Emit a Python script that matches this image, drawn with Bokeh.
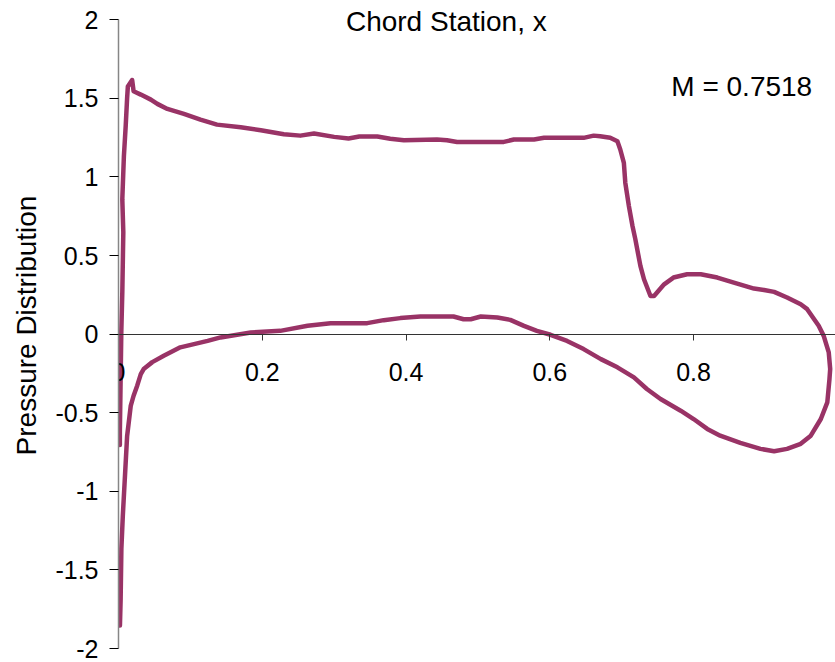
from bokeh.plotting import figure
from bokeh.models import Range1d, FixedTicker, Label
from bokeh.embed import file_html
from bokeh.resources import INLINE

# Path around the airfoil: lower surface from leading edge to trailing edge, then upper surface back
chord_x = [0.002, 0.003, 0.004, 0.006, 0.009, 0.012, 0.017, 0.021, 0.026, 0.031, 0.035, 0.047,
           0.063, 0.086, 0.124, 0.142, 0.184, 0.225, 0.263, 0.295, 0.323, 0.346, 0.369, 0.392,
           0.420, 0.466, 0.480, 0.490, 0.504, 0.527, 0.545, 0.564, 0.582, 0.601, 0.624, 0.647,
           0.671, 0.694, 0.717, 0.735, 0.754, 0.782, 0.800, 0.819, 0.837, 0.865, 0.893, 0.912,
           0.930, 0.949, 0.963, 0.977, 0.986, 0.989, 0.990, 0.988, 0.981, 0.974, 0.958, 0.949,
           0.930, 0.912, 0.898, 0.884, 0.856, 0.833, 0.810, 0.791, 0.772, 0.759, 0.745, 0.740,
           0.731, 0.726, 0.719, 0.715, 0.710, 0.705, 0.703, 0.698, 0.694, 0.684, 0.670, 0.661,
           0.647, 0.592, 0.578, 0.550, 0.536, 0.471, 0.457, 0.443, 0.397, 0.378, 0.360, 0.335,
           0.320, 0.300, 0.272, 0.253, 0.230, 0.198, 0.170, 0.137, 0.114, 0.091, 0.068, 0.054,
           0.045, 0.031, 0.021, 0.019, 0.013, 0.012, 0.010, 0.0075, 0.0053, 0.0067, 0.0053,
           0.0039, 0.0029, 0.0019, 0.0019]
pressure = [-1.854, -1.683, -1.365, -1.156, -0.902, -0.648, -0.457, -0.392, -0.328, -0.254, -0.222, -0.178,
            -0.138, -0.084, -0.043, -0.021, 0.011, 0.021, 0.053, 0.070, 0.070, 0.070, 0.089, 0.102,
            0.112, 0.112, 0.095, 0.095, 0.112, 0.106, 0.091, 0.053, 0.021, -0.004, -0.043, -0.095,
            -0.159, -0.211, -0.275, -0.349, -0.413, -0.487, -0.540, -0.603, -0.646, -0.692, -0.730, -0.745,
            -0.730, -0.698, -0.646, -0.540, -0.434, -0.286, -0.222, -0.116, -0.011, 0.053, 0.159, 0.190,
            0.233, 0.269, 0.281, 0.290, 0.328, 0.360, 0.381, 0.381, 0.360, 0.317, 0.243, 0.243,
            0.349, 0.434, 0.603, 0.688, 0.815, 0.963, 1.090, 1.175, 1.227, 1.249, 1.259, 1.263,
            1.249, 1.249, 1.238, 1.238, 1.223, 1.223, 1.234, 1.238, 1.234, 1.243, 1.257, 1.257,
            1.245, 1.255, 1.276, 1.263, 1.272, 1.297, 1.316, 1.333, 1.365, 1.401, 1.433, 1.465,
            1.492, 1.524, 1.545, 1.617, 1.575, 1.503, 1.323, 1.132, 0.857, 0.648, 0.267,
            0.013, -0.305, -0.622, -0.705]

x_ticks = [0, 0.2, 0.4, 0.6, 0.8, 1.0]
x_tick_labels = ["0", "0.2", "0.4", "0.6", "0.8", "1"]
y_ticks = [-2, -1.5, -1, -0.5, 0, 0.5, 1, 1.5, 2]
y_tick_labels = ["-2", "-1.5", "-1", "-0.5", "0", "0.5", "1", "1.5", "2"]

FONT = "Liberation Sans"
FS = "25px"
FS_BIG = "28px"

# a little headroom above y = 2 so the top caption is not clipped by the frame
p = figure(width=835, height=662, x_range=Range1d(0, 0.9974), y_range=Range1d(-2, 2.11),
           output_backend="svg", toolbar_location=None,
           min_border_left=118, min_border_right=0, min_border_top=2, min_border_bottom=14)
p.background_fill_color = "white"
p.border_fill_color = "white"
p.outline_line_color = None
p.xgrid.visible = False
p.ygrid.visible = False

p.line(chord_x, pressure, line_color="#993366", line_width=4.5, line_join="round", line_cap="round")

# x axis drawn across y = 0
xa = p.xaxis[0]
xa.fixed_location = 0
xa.ticker = FixedTicker(ticks=x_ticks)
xa.major_label_overrides = {t: s for t, s in zip(x_ticks, x_tick_labels)}
xa.axis_line_color = "#333333"
xa.axis_line_width = 1
xa.major_tick_in = 0
xa.major_tick_out = 6
xa.major_tick_line_color = "#333333"
xa.minor_tick_line_color = None
xa.major_label_standoff = 23
xa.major_label_text_font = FONT
xa.major_label_text_font_size = FS
xa.major_label_text_color = "black"

ya = p.yaxis[0]
ya.ticker = FixedTicker(ticks=y_ticks)
ya.bounds = (y_ticks[0], y_ticks[-1])
ya.major_label_overrides = {t: s for t, s in zip(y_ticks, y_tick_labels)}
ya.axis_line_color = "#868686"
ya.axis_line_width = 1.5
ya.major_tick_in = 0
ya.major_tick_out = 9
ya.major_tick_line_color = "black"
ya.minor_tick_line_color = None
ya.major_label_standoff = 11
ya.major_label_text_font = FONT
ya.major_label_text_font_size = FS
ya.major_label_text_color = "black"
ya.axis_label = "Pressure Distribution"
ya.axis_label_text_font = FONT
ya.axis_label_text_font_size = FS_BIG
ya.axis_label_text_font_style = "normal"
ya.axis_label_text_color = "black"
ya.axis_label_standoff = 10

p.add_layout(Label(x=0.456, y=1.99, text="Chord Station, x", text_align="center",
                   text_baseline="middle", text_font=FONT, text_font_size=FS_BIG,
                   text_color="black"))
p.add_layout(Label(x=0.769, y=1.573, text="M = 0.7518", text_align="left",
                   text_baseline="middle", text_font=FONT, text_font_size=FS_BIG,
                   text_color="black"))

open("out.html", "w").write(file_html(p, INLINE))
